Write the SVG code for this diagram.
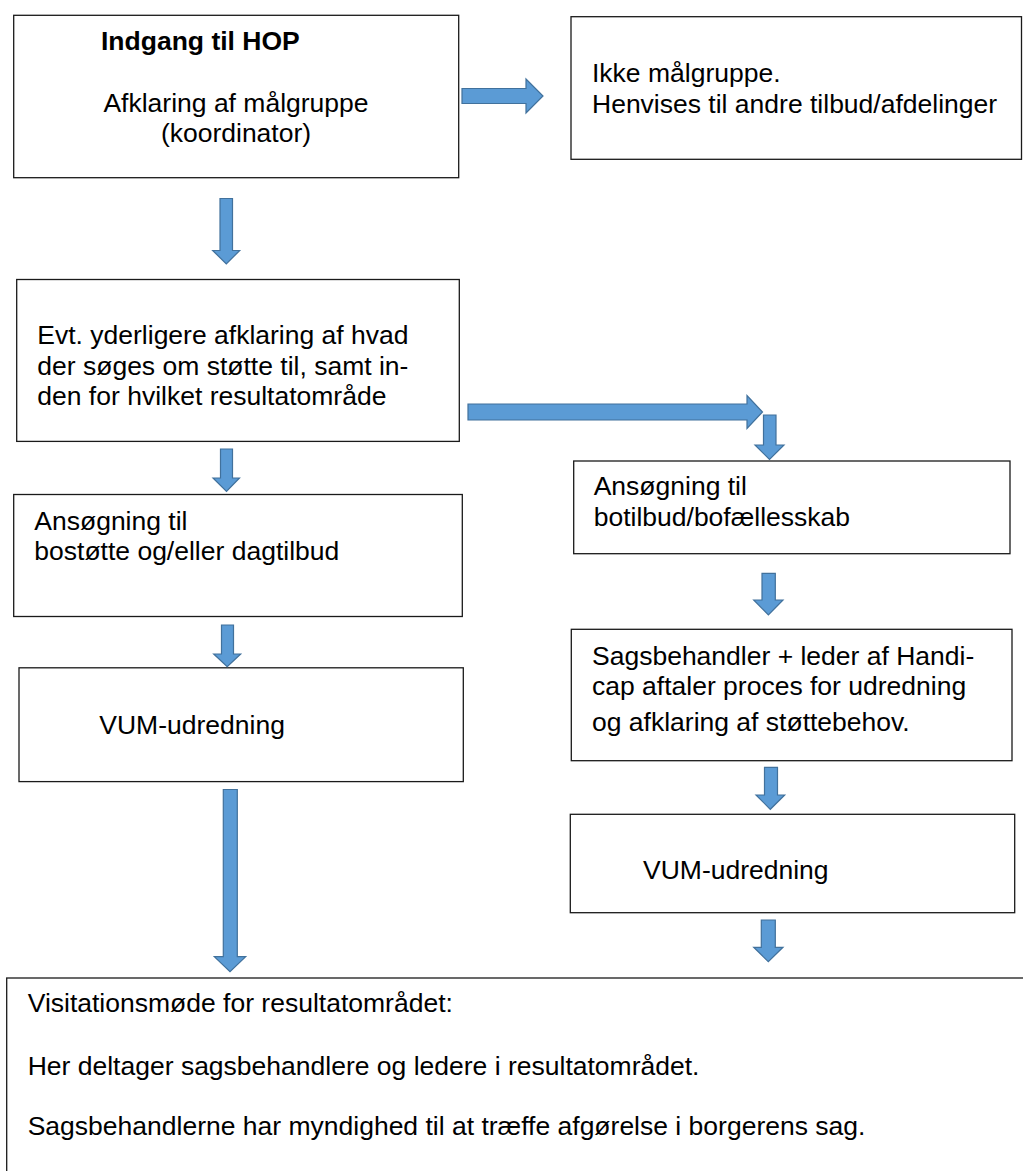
<svg xmlns="http://www.w3.org/2000/svg" width="1023" height="1171" viewBox="0 0 1023 1171">
<style>
.box{fill:#fff;stroke:#1a1a1a;stroke-width:1.3}
.t{font-family:"Liberation Sans",Arial,sans-serif;font-size:26.5px;fill:#000}
.b{font-weight:bold}
.arr{fill:#5B9BD5;stroke:#41719C;stroke-width:1.2;stroke-linejoin:miter}
</style>
<rect width="1023" height="1171" fill="#fff"/>
<g id="node-indgang">
<rect class="box" x="13.7" y="15.3" width="445" height="162.4"/>
<text class="t b" x="101" y="50">Indgang til HOP</text>
<text class="t" x="236" y="111.7" text-anchor="middle">Afklaring af målgruppe</text>
<text class="t" x="236" y="141.7" text-anchor="middle">(koordinator)</text>
</g>
<g id="node-ikke">
<rect class="box" x="571" y="16.7" width="450.5" height="142.6"/>
<text class="t" x="592" y="82">Ikke målgruppe.</text>
<text class="t" x="592" y="112.7">Henvises til andre tilbud/afdelinger</text>
</g>
<g id="node-evt">
<rect class="box" x="16.7" y="279.5" width="442.6" height="161.9"/>
<text class="t" x="37.3" y="344.4">Evt. yderligere afklaring af hvad</text>
<text class="t" x="37.3" y="374.8">der søges om støtte til, samt in-</text>
<text class="t" x="37.3" y="405.2">den for hvilket resultatområde</text>
</g>
<g id="node-ans-left">
<rect class="box" x="13.7" y="494.5" width="448.6" height="122"/>
<text class="t" x="34.3" y="529.5">Ansøgning til</text>
<text class="t" x="34.3" y="559.5">bostøtte og/eller dagtilbud</text>
</g>
<g id="node-ans-right">
<rect class="box" x="573.7" y="461" width="436.3" height="92.7"/>
<text class="t" x="593.7" y="495">Ansøgning til</text>
<text class="t" x="593.7" y="525.7">botilbud/bofællesskab</text>
</g>
<g id="node-sags">
<rect class="box" x="571.3" y="629.3" width="440.7" height="131.4"/>
<text class="t" x="592" y="665">Sagsbehandler + leder af Handi-</text>
<text class="t" x="592" y="695">cap aftaler proces for udredning</text>
<text class="t" x="592" y="730.7">og afklaring af støttebehov.</text>
</g>
<g id="node-vum-left">
<rect class="box" x="19" y="667.8" width="444.3" height="113.8"/>
<text class="t" x="99.3" y="733.5">VUM-udredning</text>
</g>
<g id="node-vum-right">
<rect class="box" x="570.3" y="814.3" width="444.4" height="98.4"/>
<text class="t" x="643" y="879.3">VUM-udredning</text>
</g>
<g id="node-visitation">
<rect class="box" x="6.7" y="978" width="1030" height="300"/>
<text class="t" x="27.7" y="1012.3">Visitationsmøde for resultatområdet:</text>
<text class="t" x="27.7" y="1075">Her deltager sagsbehandlere og ledere i resultatområdet.</text>
<text class="t" x="27.7" y="1135">Sagsbehandlerne har myndighed til at træffe afgørelse i borgerens sag.</text>
</g>
<g id="connectors">
<path class="arr" d="M462,88.5 H526 V79 L543,96 L526,113 V103.5 H462 Z"/>
<path class="arr" d="M220,198.5 H232.5 V250.5 H239.7 L226.3,264 L212.7,250.5 H220 Z"/>
<path class="arr" d="M468,404 H747 V395.5 L762.5,412 L747,428.5 V420 H468 Z"/>
<path class="arr" d="M763.5,415 H776 V445 H784 L769.5,459.5 L755,445 H763.5 Z"/>
<path class="arr" d="M220.5,449 H232.5 V478 H239.5 L226.5,491.5 L213,478 H220.5 Z"/>
<path class="arr" d="M221.5,625 H233.5 V654 H240.7 L227.2,666.7 L213.7,654 H221.5 Z"/>
<path class="arr" d="M223.3,789.5 H237.3 V956.7 H245.7 L230,971.7 L214.3,956.7 H223.3 Z"/>
<path class="arr" d="M762,573.3 H775.3 V600 H783 L768.4,615 L753.7,600 H762 Z"/>
<path class="arr" d="M764.5,767.3 H777.5 V795 H784.7 L770.3,809.3 L756,795 H764.5 Z"/>
<path class="arr" d="M761.3,920 H775.3 V947.3 H783 L768.3,961.7 L753.7,947.3 H761.3 Z"/>
</g>
</svg>
